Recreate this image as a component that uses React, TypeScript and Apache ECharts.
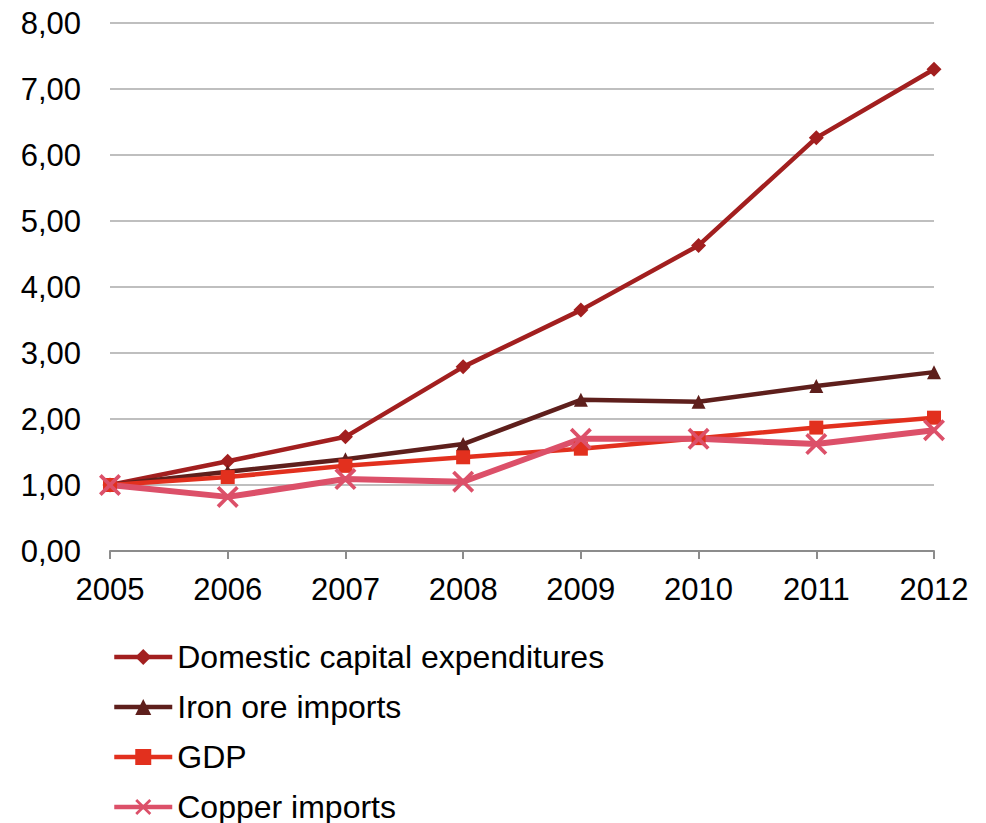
import React, { useEffect, useRef } from "react";
import * as echarts from "echarts";

const years = ["2005", "2006", "2007", "2008", "2009", "2010", "2011", "2012"];
const domesticCapex = [1.0, 1.36, 1.73, 2.79, 3.65, 4.63, 6.26, 7.3];
const ironOre = [1.0, 1.2, 1.39, 1.62, 2.29, 2.26, 2.5, 2.71];
const gdp = [1.0, 1.12, 1.29, 1.42, 1.55, 1.71, 1.87, 2.02];
const copper = [1.0, 0.82, 1.09, 1.05, 1.7, 1.7, 1.62, 1.83];

const seriesNames = ["Domestic capital expenditures", "Iron ore imports", "GDP", "Copper imports"];
const colors = ["#A21F1F", "#5E1F1C", "#E2301E", "#DC5069"];

const xSymbol =
  "path://M0,1.2 L1.2,0 L5,3.8 L8.8,0 L10,1.2 L6.2,5 L10,8.8 L8.8,10 L5,6.2 L1.2,10 L0,8.8 L3.8,5 Z";

export default function App() {
  const ref = useRef<HTMLDivElement>(null);
  useEffect(() => {
    if (!ref.current) return;
    const chart = echarts.init(ref.current, null, { renderer: "svg" });
    const font = "Liberation Sans, Arial, sans-serif";
    const mk = (name: string, data: number[], color: string, symbol: string, size: number, width: number) => ({
      name,
      type: "line",
      data,
      symbol,
      symbolSize: size,
      showSymbol: true,
      lineStyle: { color, width },
      itemStyle: { color },
    });
    const legends = seriesNames.map((n, i) => ({
      orient: "vertical",
      left: 107,
      top: 634 + i * 50,
      itemWidth: 58,
      itemHeight: 20,
      lineStyle: { width: 4.5 },
      textStyle: { fontFamily: font, fontSize: 32, color: "#000", lineHeight: 36 },
      data: [n],
    }));
    chart.setOption({
      animation: false,
      backgroundColor: "#ffffff",
      grid: { left: 110, right: 52, top: 23, bottom: 272, containLabel: false },
      legend: legends,
      xAxis: {
        type: "category",
        data: years,
        boundaryGap: false,
        axisLine: { lineStyle: { color: "#8C8C8C", width: 2 } },
        axisTick: { show: true, length: 8, alignWithLabel: true, lineStyle: { color: "#8C8C8C", width: 2 } },
        axisLabel: { fontFamily: font, fontSize: 31, color: "#000", margin: 23 },
        splitLine: { show: false },
      },
      yAxis: {
        type: "value",
        min: 0,
        max: 8,
        interval: 1,
        axisLine: { show: false },
        axisTick: { show: false },
        axisLabel: {
          fontFamily: font,
          fontSize: 31,
          color: "#000",
          margin: 29,
          formatter: (v: number) => v.toFixed(2).replace(".", ","),
        },
        splitLine: { lineStyle: { color: "#BFBFBF", width: 2 } },
      },
      series: [
        mk(seriesNames[0], domesticCapex, colors[0], "diamond", 15, 4.5),
        mk(seriesNames[1], ironOre, colors[1], "triangle", 14, 4.5),
        mk(seriesNames[2], gdp, colors[2], "rect", 14, 4.5),
        mk(seriesNames[3], copper, colors[3], xSymbol, 22, 6),
      ],
    });
    return () => chart.dispose();
  }, []);
  return (
    <div
      ref={ref}
      style={{ position: "absolute", left: 0, top: 0, width: 986, height: 823 }}
    />
  );
}
